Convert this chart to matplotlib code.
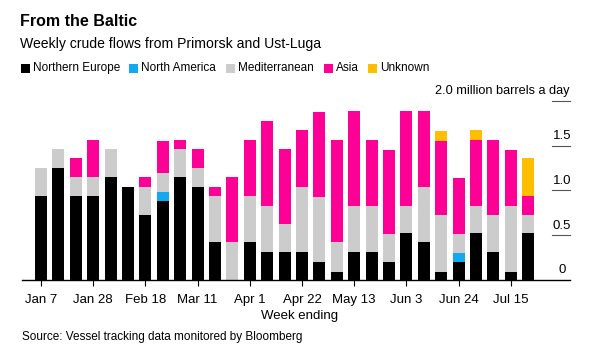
import numpy as np
import matplotlib.pyplot as plt
from matplotlib.patches import Rectangle

plt.rc('font', family=['Liberation Sans', 'DejaVu Sans'])

weeks = ["Jan 7", "Jan 14", "Jan 21", "Jan 28", "Feb 4", "Feb 11", "Feb 18", "Feb 25",
         "Mar 4", "Mar 11", "Mar 18", "Mar 25", "Apr 1", "Apr 8", "Apr 15", "Apr 22",
         "Apr 29", "May 6", "May 13", "May 20", "May 27", "Jun 3", "Jun 10", "Jun 17",
         "Jun 24", "Jul 1", "Jul 8", "Jul 15", "Jul 22"]

# million barrels a day
northern_europe = [0.94, 1.25, 0.94, 0.94, 1.15, 1.04, 0.73, 0.88, 1.15, 1.04, 0.42, 0.0,
                   0.42, 0.31, 0.31, 0.31, 0.20, 0.094, 0.31, 0.31, 0.20, 0.52, 0.42, 0.094,
                   0.20, 0.52, 0.31, 0.094, 0.52]
north_america = [0, 0, 0, 0, 0, 0, 0, 0.10, 0, 0, 0, 0, 0, 0, 0, 0, 0, 0, 0, 0, 0, 0, 0, 0,
                 0.10, 0, 0, 0, 0]
mediterranean = [0.31, 0.21, 0.21, 0.21, 0.31, 0.0, 0.31, 0.21, 0.31, 0.21, 0.52, 0.42,
                 0.52, 0.52, 0.31, 0.73, 0.73, 0.33, 0.52, 0.52, 0.31, 0.31, 0.62, 0.63,
                 0.21, 0.31, 0.42, 0.73, 0.21]
asia = [0, 0, 0.21, 0.41, 0, 0, 0.11, 0.36, 0.10, 0.21, 0.10, 0.73, 0.62, 0.94, 0.84, 0.63,
        0.94, 1.14, 1.05, 0.73, 0.94, 1.05, 0.84, 0.83, 0.63, 0.73, 0.83, 0.63, 0.21]
unknown = [0, 0, 0, 0, 0, 0, 0, 0, 0, 0, 0, 0, 0, 0, 0, 0, 0, 0, 0, 0, 0, 0, 0, 0.11,
           0, 0.11, 0, 0, 0.42]

series = [("Northern Europe", northern_europe, "#000000"),
          ("North America", north_america, "#12a9f0"),
          ("Mediterranean", mediterranean, "#cccccc"),
          ("Asia", asia, "#ff0096"),
          ("Unknown", unknown, "#ffbf00")]

yticks = [0, 0.5, 1.0, 1.5]
tick_idx = list(range(0, 29, 3))

fig = plt.figure(figsize=(5.93, 3.61), dpi=100)
ax = fig.add_axes([0.0371, 0.2244, 0.924, 0.4967])

x = np.arange(len(weeks))
bottom = np.zeros(len(weeks))
for name, vals, col in series:
    vals = np.array(vals)
    ax.bar(x, vals, bottom=bottom, width=0.69, color=col, linewidth=0)
    bottom += vals

ax.set_xlim(-1.09, 30.4)
ax.set_ylim(0, 2.0)
for s in ["top", "right", "left"]:
    ax.spines[s].set_visible(False)
ax.spines["bottom"].set_color("black")
ax.spines["bottom"].set_linewidth(1)
ax.set_yticks([])
ax.set_xticks(tick_idx)
ax.set_xticklabels([weeks[i] for i in tick_idx], fontsize=9.5)
ax.tick_params(axis="x", length=4, width=0.8, pad=6)
ax.set_xlabel("Week ending", fontsize=9.5)
ax.xaxis.set_label_coords(0.507, -0.165)

# right-hand value scale: short lines with labels above them
trans = ax.get_yaxis_transform()
for v in yticks + [2.0]:
    if v > 0:
        ax.plot([0.967, 1.0], [v, v], transform=trans, color="#555555", lw=0.8, clip_on=False)
for v in yticks:
    lab = "0" if v == 0 else f"{v:.1f}"
    ax.text(0.985, v + 0.04, lab, transform=trans, ha="center", va="bottom", fontsize=9.5)
ax.text(1.0, 2.04, "2.0 million barrels a day", transform=trans, ha="right", va="bottom",
        fontsize=9.2)

# titles
fig.text(20 / 593, 1 - 21 / 361, "From the Baltic", fontsize=11.5, fontweight="bold",
         va="center", ha="left")
fig.text(20 / 593, 1 - 44 / 361, "Weekly crude flows from Primorsk and Ust-Luga",
         fontsize=10.1, va="center", ha="left")

# legend
leg_x = [21, 129, 226, 324, 368]
for (name, vals, col), lx in zip(series, leg_x):
    fig.patches.append(Rectangle((lx / 593, 1 - 72.5 / 361), 9 / 593, 9 / 361,
                                 transform=fig.transFigure, color=col, lw=0))
    fig.text((lx + 12) / 593, 1 - 68 / 361, name, fontsize=8.5, va="center", ha="left")

fig.text(22 / 593, 1 - 337 / 361, "Source: Vessel tracking data monitored by Bloomberg",
         fontsize=8.5, va="center", ha="left")

plt.savefig("out.png", dpi=100)
